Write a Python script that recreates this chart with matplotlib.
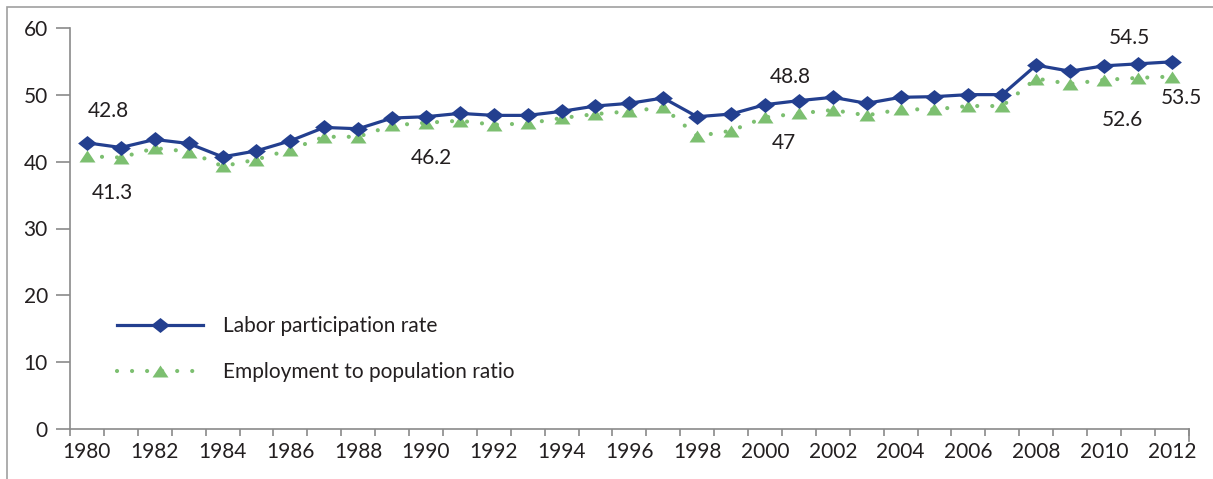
import matplotlib
matplotlib.use("Agg")
import matplotlib.pyplot as plt
from matplotlib.patches import Rectangle
from matplotlib.path import Path
import numpy as np

years = list(range(1980, 2013))
labor_participation = [42.8, 42.1, 43.3, 42.7, 40.7, 41.6, 43.1, 45.1, 44.9, 46.5,
                       46.7, 47.2, 46.9, 46.9, 47.5, 48.3, 48.7, 49.5, 46.7, 47.1,
                       48.5, 49.1, 49.6, 48.7, 49.6, 49.7, 50.0, 50.0, 54.4, 53.5,
                       54.3, 54.6, 54.9]
employment_ratio = [40.8, 40.6, 42.0, 41.5, 39.3, 40.3, 41.8, 43.7, 43.7, 45.4,
                    45.8, 46.1, 45.5, 45.7, 46.5, 47.1, 47.5, 48.1, 43.8, 44.6,
                    46.6, 47.2, 47.7, 46.9, 47.8, 47.8, 48.3, 48.3, 52.4, 51.6,
                    52.2, 52.5, 52.7]
series_names = ["Labor participation rate", "Employment to population ratio"]
y_ticks = [0, 10, 20, 30, 40, 50, 60]
x_tick_years = list(range(1980, 2013, 2))

# annotation texts and the positions where they sit (year, value)
ann_texts = ["42.8", "41.3", "46.2", "48.8", "47", "54.5", "52.6", "53.5"]
ann_x = [1980.62, 1980.74, 1990.17, 2000.74, 2000.56, 2010.74, 2010.55, 2012.29]
ann_y = [47.6, 35.3, 40.5, 52.6, 42.7, 58.5, 46.2, 49.45]

plt.rcParams['font.family'] = ['Lato', 'DejaVu Sans']
TXT = '#231f20'
GRAY = '#8a8a8a'
BLUE = '#233f8f'
GREEN = '#7cbf70'
FS = 15

W, H = 1213, 479
fig = plt.figure(figsize=(W / 100, H / 100), dpi=100)
ax = fig.add_axes([70 / W, 1 - 429.3 / H, (1188.7 - 70) / W, (429.3 - 27.7) / H])

diamond = Path([(-1, 0), (0, 0.8), (1, 0), (0, -0.8), (-1, 0)],
               [Path.MOVETO, Path.LINETO, Path.LINETO, Path.LINETO, Path.CLOSEPOLY])
triangle = Path([(-1, -0.75), (1, -0.75), (0, 0.75), (-1, -0.75)],
                [Path.MOVETO, Path.LINETO, Path.LINETO, Path.CLOSEPOLY])

ax.plot(years, employment_ratio, color=GREEN, lw=3.0,
        linestyle=(0, (0.01, 3.6)), dash_capstyle='round',
        marker=triangle, markersize=11.5, markeredgewidth=0, markerfacecolor=GREEN,
        label=series_names[1], zorder=2)
ax.plot(years, labor_participation, color=BLUE, lw=2.3,
        marker=diamond, markersize=13.5, markeredgewidth=0, markerfacecolor=BLUE,
        label=series_names[0], zorder=3)

ax.set_xlim(1979.5, 2012.5)
ax.set_ylim(0, 60)
ax.set_yticks(y_ticks)
ax.set_xticks(x_tick_years)
ax.set_xticks(np.arange(1979.5, 2012.6, 1.0), minor=True)
ax.tick_params(axis='x', which='major', length=0, pad=9, labelsize=FS, labelcolor=TXT)
ax.tick_params(axis='x', which='minor', length=5, width=1.2, color=GRAY, direction='out')
ax.tick_params(axis='y', length=10, width=1.2, color=GRAY, pad=6, labelsize=FS, labelcolor=TXT)

for s in ['top', 'right']:
    ax.spines[s].set_visible(False)
for s in ['left', 'bottom']:
    ax.spines[s].set_color(GRAY)
    ax.spines[s].set_linewidth(1.2)

# longer closing tick at the right end of the category axis
ax.plot([1, 1], [0, -0.028], transform=ax.transAxes, color=GRAY, lw=1.2, clip_on=False)

for t, x, y in zip(ann_texts, ann_x, ann_y):
    ax.text(x, y, t, ha='center', va='center', fontsize=FS, color=TXT)

handles, labels = ax.get_legend_handles_labels()
leg = ax.legend(handles[::-1], labels[::-1], loc='upper left',
                bbox_to_anchor=(117 / W, 1 - 316 / H), bbox_transform=fig.transFigure,
                frameon=False, fontsize=FS, handlelength=4.15, handletextpad=0.95,
                labelspacing=1.25, borderpad=0, borderaxespad=0, numpoints=1)
for t in leg.get_texts():
    t.set_color(TXT)

fig.patches.append(Rectangle((7 / W, -0.1), 1.2, 1 - 7 / H + 0.1, transform=fig.transFigure,
                             fill=False, edgecolor='#a0a0a0', lw=1.2))

fig.savefig('out.png', dpi=100)
